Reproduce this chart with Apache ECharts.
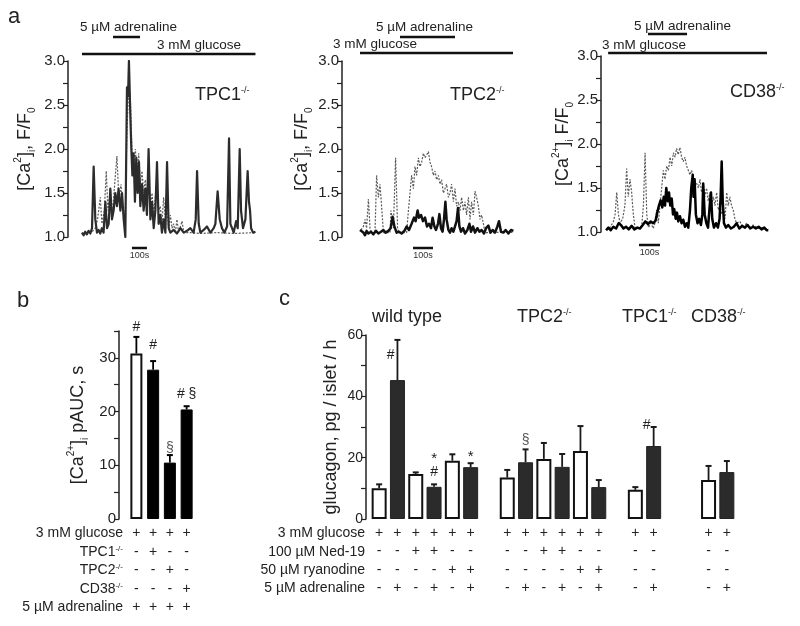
<!DOCTYPE html>
<html><head><meta charset="utf-8">
<script src="https://cdn.jsdelivr.net/npm/echarts@6/dist/echarts.min.js"></script>
<style>html,body{margin:0;padding:0;background:#fff}#chart{width:800px;height:626px}</style>
</head><body><div id="chart"></div>
<script>
// ---------- Panel a: [Ca2+]i traces (time in s, value F/F0) ----------
const a1SolidT = [0,11,22,33,44,56,67,78,89,100,111,122,133,144,156,167,178,189,200,211,222,233,244,256,267,278,289,300,307,313,322,329,336,344,353,362,371,380,389,400,411,422,433,444,456,467,478,489,500,511,522,533,544,556,567,578,589,611,633,656,678,700,722,744,758,767,778,789,811,833,856,878,889,904,918,933,949,967,980,989,1000,1011,1027,1038,1051,1060,1073,1089,1104,1113,1120,1127,1140,1156];
const a1SolidV = [1.05,1.02,1.06,1.03,1.07,1.04,1.1,1.8,1.2,1.05,1.08,1.04,1.1,1.05,1.4,1.1,1.15,1.55,1.2,1.3,1.5,1.35,1.55,1.3,1.5,1.2,1.0,2.7,2.6,3.0,2.4,2.0,1.7,1.95,1.4,1.9,1.5,1.85,1.35,1.6,1.3,1.55,1.25,2.0,1.2,1.4,1.1,1.3,1.85,1.15,1.25,1.05,1.2,1.05,1.85,1.1,1.05,1.08,1.04,1.1,1.05,1.07,1.1,1.05,1.2,1.75,1.15,1.05,1.08,1.12,1.05,1.1,1.15,1.52,1.2,1.1,1.05,1.12,2.12,1.15,1.1,1.05,1.18,1.1,2.0,1.3,1.1,1.2,1.75,1.4,1.3,1.1,1.05,1.06];
const a1DotT = [0,33,67,89,104,122,133,149,162,173,189,202,218,233,247,260,273,287,300,311,322,333,344,356,367,378,389,400,411,422,433,444,456,467,478,489,500,511,522,533,544,556,567,578,589,600,611,622,633,644,656,667,678,722,789,900,1011,1156];
const a1DotV = [1.04,1.05,1.06,1.1,1.2,1.45,1.15,1.3,1.75,1.3,1.55,1.25,1.6,1.92,1.4,1.6,1.3,1.15,2.2,2.7,2.6,2.0,1.8,2.0,1.7,1.95,1.6,1.75,1.5,1.65,1.45,1.55,1.3,1.5,1.25,1.45,1.6,1.3,1.35,1.15,1.45,1.2,1.3,1.1,1.25,1.1,1.15,1.05,1.2,1.05,1.12,1.18,1.05,1.05,1.04,1.05,1.04,1.05];

const a2SolidT = [0,8,17,25,33,42,55,67,80,92,105,117,128,142,153,163,172,183,195,208,222,233,245,258,270,278,288,295,305,315,325,335,345,355,363,372,380,390,397,405,413,420,427,433,442,450,458,467,475,483,490,497,505,515,525,537,547,555,565,575,587,597,608,620,630,642,652,663,675,687,695,705,717,728,742,755,767];
const a2SolidV = [1.08,1.1,1.05,1.02,1.07,1.04,1.06,1.03,1.07,1.04,1.06,1.08,1.05,1.07,1.1,1.23,1.12,1.05,1.06,1.04,1.07,1.12,1.08,1.15,1.22,1.18,1.3,1.22,1.25,1.18,1.22,1.12,1.15,1.1,1.22,1.12,1.08,1.15,1.26,1.1,1.06,1.2,1.4,1.2,1.08,1.05,1.1,1.06,1.12,1.18,1.33,1.12,1.06,1.1,1.04,1.08,1.15,1.06,1.12,1.05,1.1,1.06,1.08,1.04,1.1,1.13,1.05,1.08,1.05,1.12,1.18,1.06,1.05,1.08,1.04,1.08,1.07];
const a2DotT = [5,17,25,33,42,50,58,75,83,92,100,108,117,125,150,155,167,178,188,195,233,242,250,258,267,275,283,292,300,308,317,325,333,342,350,358,367,375,383,392,400,408,417,425,433,442,450,458,467,475,483,492,500,508,517,525,533,542,550,558,567,575,583,592,600,608,617,625,675,725,767];
const a2DotV = [1.08,1.12,1.2,1.1,1.43,1.1,1.05,1.05,1.7,1.45,1.6,1.35,1.05,1.05,1.05,1.3,1.1,1.9,1.1,1.05,1.05,1.3,1.5,1.7,1.55,1.8,1.7,1.9,1.8,1.85,1.95,1.9,1.93,1.97,1.85,1.8,1.7,1.75,1.65,1.7,1.6,1.65,1.5,1.55,1.6,1.45,1.5,1.6,1.4,1.55,1.35,1.4,1.3,1.45,1.3,1.4,1.25,1.45,1.2,1.4,1.25,1.52,1.45,1.35,1.2,1.25,1.15,1.05,1.05,1.06,1.05];

const a3SolidT = [0,11,22,35,48,60,71,83,95,108,122,135,149,162,175,187,200,213,225,236,244,252,260,268,275,281,287,294,300,306,313,319,325,332,338,344,352,360,368,376,384,392,400,406,413,417,422,428,436,444,452,459,463,470,478,486,494,500,506,514,524,533,541,546,551,556,562,571,582,595,609,622,635,648,662,674,687,701,714,727,741,754,765,773];
const a3SolidV = [1.02,1.05,1.02,1.06,1.04,1.1,1.08,1.04,1.06,1.03,1.07,1.03,1.05,1.04,1.08,1.12,1.09,1.12,1.1,1.13,1.22,1.3,1.36,1.28,1.4,1.3,1.5,1.35,1.45,1.3,1.38,1.2,1.26,1.15,1.22,1.12,1.18,1.1,1.14,1.06,1.1,1.05,1.25,1.5,1.65,1.4,1.6,1.2,1.1,1.15,1.08,1.2,1.55,1.2,1.1,1.05,1.3,1.45,1.15,1.05,1.1,1.05,1.15,1.4,1.8,1.35,1.1,1.05,1.08,1.04,1.06,1.1,1.04,1.07,1.05,1.08,1.04,1.06,1.04,1.06,1.03,1.05,1.02,1.02];
const a3DotT = [3,19,35,43,51,59,67,79,90,98,106,114,122,130,138,154,170,178,186,194,202,213,225,233,241,249,257,265,273,281,289,297,305,313,321,329,336,344,352,360,368,376,384,392,400,408,416,424,432,440,448,455,463,471,479,487,495,503,511,519,527,535,543,551,559,567,575,582,590,598,606,614,622,638,654,670,686,701,725,749,773];
const a3DotV = [1.02,1.05,1.12,1.2,1.45,1.2,1.1,1.15,1.3,1.72,1.4,1.6,1.45,1.2,1.05,1.04,1.07,1.3,1.9,1.2,1.05,1.1,1.04,1.1,1.25,1.1,1.3,1.5,1.7,1.6,1.75,1.7,1.85,1.75,1.9,1.85,1.95,1.88,1.96,1.85,1.8,1.85,1.75,1.7,1.65,1.7,1.6,1.62,1.55,1.5,1.6,1.45,1.55,1.4,1.5,1.35,1.45,1.3,1.4,1.3,1.45,1.25,1.3,1.2,1.3,1.15,1.45,1.3,1.4,1.3,1.25,1.15,1.1,1.12,1.05,1.1,1.05,1.08,1.04,1.05,1.03];

// treatment periods (s): [start, end]
const a1Glucose = [0, 1156], a1Adrenaline = [207, 387], a1Scale = [333, 433];
const a2Glucose = [0, 765],  a2Adrenaline = [200, 475], a2Scale = [265, 365];
const a3Glucose = [10, 767], a3Adrenaline = [200, 386], a3Scale = [157, 257];
const traceTicks = [1.0, 1.5, 2.0, 2.5, 3.0];

// ---------- Panel b ----------
const bValues = [30.8, 27.8, 10.5, 20.4];
const bErrors = [3.1, 1.6, 1.4, 0.6];
const bFill = ['W','D','D','D'];
const bGlucose = ['+','+','+','+'];
const bTPC1 = ['-','+','-','-'];
const bTPC2 = ['-','-','+','-'];
const bCD38 = ['-','-','-','+'];
const bAdrenaline = ['+','+','+','+'];
const bAnnotIdx = [0, 1, 2, 3];
const bAnnotVal = [35.7, 32.4, 13.2, 23.3];
const bAnnotText = ['#', '#', '§', '# §'];

// ---------- Panel c ----------
const cValues = [10.0,45.3,14.7,10.5,19.0,16.9,null,13.5,18.5,19.6,17.0,22.2,10.4,null,9.5,23.8,null,null,12.7,15.3];
const cErrors = [1.3,13.1,0.5,0.8,2.1,1.3,null,2.5,4.2,5.2,4.2,8.1,2.3,null,0.9,6.2,null,null,4.6,3.6];
const cFill = ['W','D','W','D','W','D','','W','D','W','D','W','D','','W','D','','','W','D'];
const cGlucose = ['+','+','+','+','+','+','','+','+','+','+','+','+','','+','+','','','+','+'];
const cNed19 = ['-','-','+','+','-','-','','-','-','+','+','-','-','','-','-','','','-','-'];
const cRyanodine = ['-','-','-','-','+','+','','-','-','-','-','+','+','','-','-','','','-','-'];
const cAdrenaline = ['-','+','-','+','-','+','','-','+','-','+','-','+','','-','+','','','-','+'];
const cAnnotIdx = [1, 3, 3, 5, 8, 15];
const cAnnotVal = [53.5, 15.3, 19.6, 20.2, 25.8, 30.7];
const cAnnotText = ['#', '#', '*', '*', '§', '#'];
const cAnnotSide = ['L', 'C', 'C', 'C', 'C', 'L'];

// ---------- rendering ----------
const FONT = '"Liberation Sans", Arial, Helvetica, sans-serif';
const INK = '#222';
const pairs = (t, v) => t.map((x, i) => [x, v[i]]);

const traceGrids = [
  {left: 68, top: 61, width: 190, height: 176, xmin: -93, xmax: 1173, glu: a1Glucose, adr: a1Adrenaline, sc: a1Scale, offs: [7, 24], scOff: 11, gap: 31,
   name: '{m|[Ca}{sup|2}{m|]}{sub|i}{m|, F/F}{sub|0}', solid: pairs(a1SolidT, a1SolidV), dot: pairs(a1DotT, a1DotV), solidColor: '#2c2c2c', solidW: 2.2},
  {left: 342, top: 61, width: 174, height: 176, xmin: -90, xmax: 780, glu: a2Glucose, adr: a2Adrenaline, sc: a2Scale, offs: [8, 24], scOff: 11, gap: 28,
   name: '{m|[Ca}{sup|2}{m|]}{sub|i}{m|, F/F}{sub|0}', solid: pairs(a2SolidT, a2SolidV), dot: pairs(a2DotT, a2DotV), solidColor: '#111', solidW: 2.5},
  {left: 601, top: 56, width: 170, height: 176, xmin: -24, xmax: 786, glu: a3Glucose, adr: a3Adrenaline, sc: a3Scale, offs: [3, 22], scOff: 13, gap: 26,
   name: '{m|[Ca}{sup|2+}{m|]}{sub|i}{m| F/F}{sub|0}', solid: pairs(a3SolidT, a3SolidV), dot: pairs(a3DotT, a3DotV), solidColor: '#000', solidW: 2.5}
];

const nameRich = {
  m: {fontSize: 18, fontFamily: FONT, color: INK, lineHeight: 24},
  sup: {fontSize: 10, fontFamily: FONT, color: INK, verticalAlign: 'top', lineHeight: 12},
  sub: {fontSize: 10, fontFamily: FONT, color: INK, verticalAlign: 'bottom', lineHeight: 12}
};

function yAxisBase(extra) {
  return Object.assign({
    type: 'value',
    axisLine: {show: true, onZero: false, lineStyle: {color: INK, width: 1.5}},
    axisTick: {show: true, length: 5, lineStyle: {color: INK, width: 1.2}},
    splitLine: {show: false},
    nameLocation: 'middle', nameRotate: 90, nameMoveOverlap: false,
    nameTextStyle: {fontSize: 18, fontFamily: FONT, color: INK, rich: nameRich}
  }, extra);
}

const grids = [], xAxes = [], yAxes = [], series = [];

traceGrids.forEach((g, k) => {
  grids.push({left: g.left, top: g.top, width: g.width, height: g.height, containLabel: false, outerBoundsMode: 'none'});
  xAxes.push({gridIndex: k, type: 'value', min: g.xmin, max: g.xmax, show: false});
  yAxes.push(yAxisBase({
    gridIndex: k, min: 1, max: 3, interval: 0.25,
    axisLabel: {fontSize: 15, fontFamily: FONT, color: INK, margin: 3,
      formatter: v => traceTicks.some(t => Math.abs(t - v) < 1e-6) ? v.toFixed(1) : ''},
    name: g.name, nameGap: g.gap
  }));
  series.push({type: 'line', xAxisIndex: k, yAxisIndex: k, data: g.dot, showSymbol: false, symbol: 'none',
    lineStyle: {color: '#5a5a5a', width: 1.2, type: [2, 1.5]}, z: 2, animation: false});
  series.push({type: 'line', xAxisIndex: k, yAxisIndex: k, data: g.solid, showSymbol: false, symbol: 'none',
    lineStyle: {color: g.solidColor, width: g.solidW, join: 'round'}, z: 3, animation: false});
  // treatment bars above the trace
  series.push({type: 'custom', xAxisIndex: k, yAxisIndex: k, silent: true, animation: false, z: 4,
    data: [[g.glu[0], g.glu[1], 0], [g.adr[0], g.adr[1], 1]],
    renderItem: (params, api) => {
      const p0 = api.coord([api.value(0), 3]);
      const p1 = api.coord([api.value(1), 3]);
      const y = p0[1] - g.offs[api.value(2)];
      return {type: 'line', shape: {x1: p0[0], y1: y, x2: p1[0], y2: y}, style: {stroke: '#111', lineWidth: 2.5}};
    }});
  // 100 s scale bar
  series.push({type: 'custom', xAxisIndex: k, yAxisIndex: k, silent: true, animation: false, z: 4,
    data: [[g.sc[0], g.sc[1]]],
    renderItem: (params, api) => {
      const p0 = api.coord([api.value(0), 1]);
      const p1 = api.coord([api.value(1), 1]);
      const y = p0[1] + g.scOff;
      return {type: 'group', children: [
        {type: 'line', shape: {x1: p0[0], y1: y, x2: p1[0], y2: y}, style: {stroke: '#111', lineWidth: 2.5}},
        {type: 'text', x: (p0[0] + p1[0]) / 2, y: y + 3, style: {text: '100s', fontSize: 9, fontFamily: FONT, fill: '#333', align: 'center', verticalAlign: 'top'}}
      ]};
    }});
});

// Panel b
grids.push({left: 128, top: 331, width: 67, height: 188, containLabel: false, outerBoundsMode: 'none'});
xAxes.push({gridIndex: 3, type: 'category', data: bValues.map((v, i) => String(i)),
  axisLine: {show: false}, axisTick: {show: false},
  axisLabel: {interval: 0, fontSize: 14, fontFamily: FONT, color: INK, lineHeight: 18.5, margin: 5,
    formatter: (v, i) => [bGlucose[i], bTPC1[i], bTPC2[i], bCD38[i], bAdrenaline[i]].join('\n')}});
yAxes.push(yAxisBase({gridIndex: 3, min: 0, max: 35, interval: 5, offset: 9,
  axisLabel: {fontSize: 15, fontFamily: FONT, color: INK, margin: 3, formatter: v => v % 10 === 0 ? String(v) : ''},
  name: '{m|[Ca}{sup|2+}{m|]}{sub|i}{m| pAUC, s}', nameGap: 29}));

// Panel c
grids.push({left: 370, top: 335, width: 366, height: 184, containLabel: false, outerBoundsMode: 'none'});
xAxes.push({gridIndex: 4, type: 'category', data: cValues.map((v, i) => String(i)),
  axisLine: {show: false}, axisTick: {show: false},
  axisLabel: {interval: 0, fontSize: 14, fontFamily: FONT, color: INK, lineHeight: 18.3, margin: 5,
    formatter: (v, i) => [cGlucose[i], cNed19[i], cRyanodine[i], cAdrenaline[i]].join('\n')}});
yAxes.push(yAxisBase({gridIndex: 4, min: 0, max: 60, interval: 10, offset: 4,
  axisLabel: {fontSize: 14, fontFamily: FONT, color: INK, margin: 3, formatter: v => v % 20 === 0 ? String(v) : ''},
  name: 'glucagon, pg / islet / h', nameGap: 26, nameTextStyle: {fontSize: 18, fontFamily: FONT, color: INK}}));

const whiteStyle = {color: '#fff', borderColor: '#111', borderWidth: 2};
const darkStyleB = {color: '#000', borderColor: '#000', borderWidth: 1};
const darkStyleC = {color: '#2b2b2b', borderColor: '#222', borderWidth: 1};

series.push({type: 'bar', xAxisIndex: 3, yAxisIndex: 3, barWidth: 12, animation: false,
  data: bValues.map((v, i) => ({value: v, itemStyle: bFill[i] === 'W' ? whiteStyle : darkStyleB}))});
series.push({type: 'bar', xAxisIndex: 4, yAxisIndex: 4, barWidth: 15, animation: false,
  data: cValues.map((v, i) => v === null ? '-' : ({value: v, itemStyle: cFill[i] === 'W' ? whiteStyle : darkStyleC}))});

function errorSeries(axis, vals, errs, color) {
  const data = [];
  vals.forEach((v, i) => { if (v !== null) data.push([i, v, errs[i]]); });
  return {type: 'custom', xAxisIndex: axis, yAxisIndex: axis, silent: true, animation: false, z: 5, data,
    renderItem: (params, api) => {
      const x = api.value(0), v = api.value(1), e = api.value(2);
      const p0 = api.coord([x, v]);
      const p1 = api.coord([x, v + e]);
      return {type: 'group', children: [
        {type: 'line', shape: {x1: p0[0], y1: p0[1], x2: p1[0], y2: p1[1]}, style: {stroke: color, lineWidth: 1.8}},
        {type: 'line', shape: {x1: p1[0] - 3, y1: p1[1], x2: p1[0] + 3, y2: p1[1]}, style: {stroke: color, lineWidth: 2}}
      ]};
    }};
}
series.push(errorSeries(3, bValues, bErrors, '#000'));
series.push(errorSeries(4, cValues, cErrors, '#1a1a1a'));

function annotSeries(axis, idx, vals, texts, sides) {
  return {type: 'custom', xAxisIndex: axis, yAxisIndex: axis, silent: true, animation: false, z: 6,
    data: idx.map((x, i) => [x, vals[i]]),
    renderItem: (params, api) => {
      const p = api.coord([api.value(0), api.value(1)]);
      const t = texts[params.dataIndex];
      const left = sides && sides[params.dataIndex] === 'L';
      return {type: 'text', x: left ? p[0] - 3 : p[0], y: p[1],
        style: {text: t, fontSize: t === '*' ? 15 : 14, fontFamily: FONT, fill: t === '§' ? '#555' : INK,
          align: left ? 'right' : 'center', verticalAlign: 'middle'}};
    }};
}
series.push(annotSeries(3, bAnnotIdx, bAnnotVal, bAnnotText, null));
series.push(annotSeries(4, cAnnotIdx, cAnnotVal, cAnnotText, cAnnotSide));

// ---------- free text ----------
const supRich = s => ({s: {fontSize: s, fontFamily: FONT, fill: INK, color: INK, verticalAlign: 'top'}});
function txt(x, y, text, size, align, rich) {
  return {type: 'text', x, y, silent: true,
    style: {text, fontSize: size, fontFamily: FONT, fill: INK, align: align || 'left', verticalAlign: 'middle', rich: rich || undefined}};
}
const graphics = [
  txt(8, 17, 'a', 22), txt(17, 301, 'b', 22), txt(279, 299, 'c', 22),
  txt(80, 27, '5 µM adrenaline', 13.5), txt(157, 45, '3 mM glucose', 13.5),
  txt(376, 27, '5 µM adrenaline', 13.5), txt(333, 44, '3 mM glucose', 13.5),
  txt(634, 26, '5 µM adrenaline', 13.5), txt(602, 45, '3 mM glucose', 13.5),
  txt(195, 95, 'TPC1{s|-/-}', 18, 'left', supRich(9)),
  txt(450, 95, 'TPC2{s|-/-}', 18, 'left', supRich(9)),
  txt(730, 92, 'CD38{s|-/-}', 18, 'left', supRich(9)),
  txt(372, 317, 'wild type', 18),
  txt(517, 317, 'TPC2{s|-/-}', 18, 'left', supRich(9)),
  txt(622, 317, 'TPC1{s|-/-}', 18, 'left', supRich(9)),
  txt(691, 317, 'CD38{s|-/-}', 18, 'left', supRich(9)),
  txt(123, 533, '3 mM glucose', 14, 'right'),
  txt(123, 552, 'TPC1{s|-/-}', 14, 'right', supRich(8)),
  txt(123, 570, 'TPC2{s|-/-}', 14, 'right', supRich(8)),
  txt(123, 589, 'CD38{s|-/-}', 14, 'right', supRich(8)),
  txt(123, 607, '5 µM adrenaline', 14, 'right'),
  txt(365, 533, '3 mM glucose', 14, 'right'),
  txt(365, 552, '100 µM Ned-19', 14, 'right'),
  txt(365, 570, '50 µM ryanodine', 14, 'right'),
  txt(365, 588, '5 µM adrenaline', 14, 'right')
];

const chart = echarts.init(document.getElementById('chart'), null, {renderer: 'canvas'});
chart.setOption({
  backgroundColor: '#fff',
  animation: false,
  textStyle: {fontFamily: FONT, color: INK},
  grid: grids, xAxis: xAxes, yAxis: yAxes, series,
  graphic: {elements: graphics}
});
</script></body></html>
